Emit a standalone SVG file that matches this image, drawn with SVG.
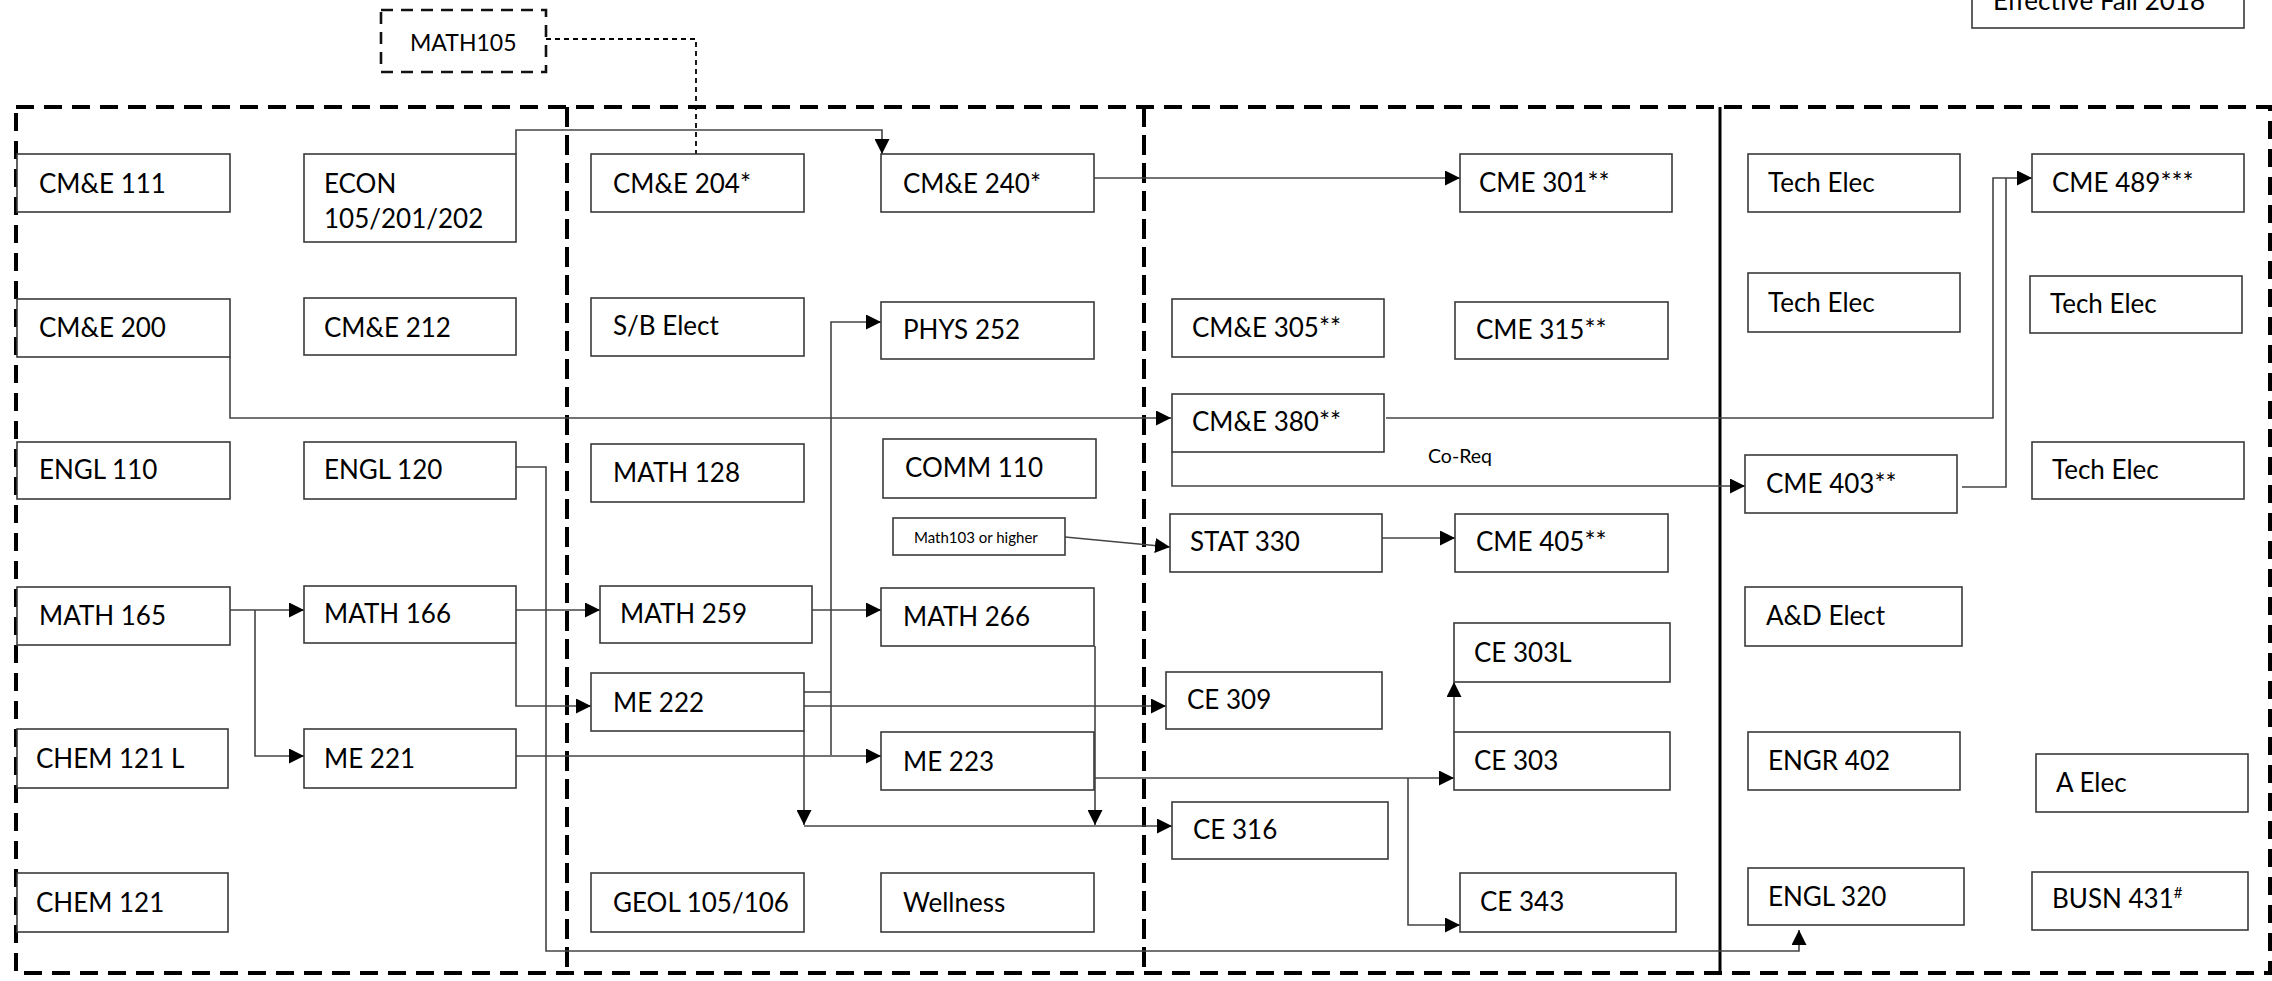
<svg xmlns="http://www.w3.org/2000/svg" width="2272" height="981" viewBox="0 0 2272 981">
<style>
.b{fill:#fff;stroke:#3a3a3a;stroke-width:1.6}
.t{font-family:Lato,"Open Sans","Liberation Sans",sans-serif;font-size:26px;fill:#000}
.s{font-size:15px}
.c{fill:none;stroke:#444;stroke-width:1.6}
.a{marker-end:url(#ah)}
.frame{fill:none;stroke:#000;stroke-width:4;stroke-dasharray:18 10}
</style>
<defs>
<marker id="ah" markerUnits="userSpaceOnUse" markerWidth="16" markerHeight="15" refX="15" refY="7.5" orient="auto">
<path d="M0,0 L15,7.5 L0,15 Z" fill="#000"/>
</marker>
</defs>
<rect width="2272" height="981" fill="#fff"/>
<g id="frame">
<rect class="frame" x="16" y="107" width="2254" height="866"/>
<line class="frame" x1="567" y1="107" x2="567" y2="973" style="stroke-dasharray:20 8"/>
<line class="frame" x1="1144" y1="107" x2="1144" y2="973" style="stroke-dasharray:20 8"/>
<line x1="1720" y1="107" x2="1720" y2="973" stroke="#000" stroke-width="3"/>
</g>
<g id="connectors">
<path d="M546,39 H696 V154" fill="none" stroke="#000" stroke-width="1.8" stroke-dasharray="5 4"/>
<path class="c a" d="M516,154 V130 H882 V154"/>
<path class="c a" d="M1094,178 H1460"/>
<path class="c a" d="M230,357 V418 H1171"/>
<path class="c a" d="M1386,418 H1993 V178 H2032"/>
<path class="c" d="M1962,487 H2006 V178"/>
<path class="c a" d="M1172,452 V486 H1745"/>
<path class="c a" d="M1065,537 L1170,547"/>
<path class="c a" d="M1382,538 H1455"/>
<path class="c a" d="M516,467 H546 V951 H1799 V930"/>
<path class="c a" d="M230,610 H304"/>
<path class="c a" d="M255,610 V756 H304"/>
<path class="c a" d="M516,610 H600"/>
<path class="c a" d="M516,643 V706 H591"/>
<path class="c a" d="M516,756 H881"/>
<path class="c a" d="M831,755 V322 H881"/>
<path class="c" d="M804,692 H831"/>
<path class="c a" d="M812,610 H881"/>
<path class="c a" d="M804,706 H1166"/>
<path class="c a" d="M804,731 V825"/>
<path class="c a" d="M804,826 H1172"/>
<path class="c a" d="M1095,646 V825"/>
<path class="c a" d="M1095,778 H1454"/>
<path class="c a" d="M1454,732 V682"/>
<path class="c a" d="M1408,778 V925 H1460"/>
</g>
<g id="n-math105"><rect x="381" y="10" width="165" height="62" fill="#fff" stroke="#111" stroke-width="2.6" stroke-dasharray="12 8"/><text class="t" x="410" y="51" style="font-size:23px">MATH105</text></g>
<g id="n-effective"><rect class="b" x="1972" y="-30" width="272" height="58"/><text class="t" x="1993" y="10">Effective Fall 2018</text></g>
<g id="n-cme111"><rect class="b" x="17" y="154" width="213" height="58"/><text class="t" x="39" y="193">CM&amp;E 111</text></g>
<g id="n-econ"><rect class="b" x="304" y="154" width="212" height="88"/><text class="t" x="324" y="193">ECON</text><text class="t" x="324" y="228">105/201/202</text></g>
<g id="n-cme204"><rect class="b" x="591" y="154" width="213" height="58"/><text class="t" x="613" y="193">CM&amp;E 204*</text></g>
<g id="n-cme240"><rect class="b" x="881" y="154" width="213" height="58"/><text class="t" x="903" y="193">CM&amp;E 240*</text></g>
<g id="n-cme301"><rect class="b" x="1460" y="154" width="212" height="58"/><text class="t" x="1479" y="192">CME 301**</text></g>
<g id="n-tech1"><rect class="b" x="1748" y="154" width="212" height="58"/><text class="t" x="1768" y="192">Tech Elec</text></g>
<g id="n-cme489"><rect class="b" x="2032" y="154" width="212" height="58"/><text class="t" x="2052" y="192">CME 489***</text></g>
<g id="n-cme200"><rect class="b" x="17" y="299" width="213" height="58"/><text class="t" x="39" y="337">CM&amp;E 200</text></g>
<g id="n-cme212"><rect class="b" x="304" y="298" width="212" height="57"/><text class="t" x="324" y="337">CM&amp;E 212</text></g>
<g id="n-sbelect"><rect class="b" x="591" y="298" width="213" height="58"/><text class="t" x="613" y="335">S/B Elect</text></g>
<g id="n-phys252"><rect class="b" x="881" y="302" width="213" height="57"/><text class="t" x="903" y="339">PHYS 252</text></g>
<g id="n-cme305"><rect class="b" x="1172" y="299" width="212" height="58"/><text class="t" x="1192" y="337">CM&amp;E 305**</text></g>
<g id="n-cme315"><rect class="b" x="1455" y="302" width="213" height="57"/><text class="t" x="1476" y="339">CME 315**</text></g>
<g id="n-tech2"><rect class="b" x="1748" y="273" width="212" height="59"/><text class="t" x="1768" y="312">Tech Elec</text></g>
<g id="n-tech3"><rect class="b" x="2030" y="276" width="212" height="57"/><text class="t" x="2050" y="313">Tech Elec</text></g>
<g id="n-cme380"><rect class="b" x="1172" y="394" width="212" height="58"/><text class="t" x="1192" y="431">CM&amp;E 380**</text></g>
<g id="l-coreq"><text class="t" x="1428" y="463" style="font-size:19.5px">Co-Req</text></g>
<g id="n-engl110"><rect class="b" x="17" y="442" width="213" height="57"/><text class="t" x="39" y="479">ENGL 110</text></g>
<g id="n-engl120"><rect class="b" x="304" y="442" width="212" height="57"/><text class="t" x="324" y="479">ENGL 120</text></g>
<g id="n-math128"><rect class="b" x="591" y="444" width="213" height="58"/><text class="t" x="613" y="482">MATH 128</text></g>
<g id="n-comm110"><rect class="b" x="883" y="439" width="213" height="59"/><text class="t" x="905" y="477">COMM 110</text></g>
<g id="n-cme403"><rect class="b" x="1745" y="455" width="212" height="58"/><text class="t" x="1766" y="493">CME 403**</text></g>
<g id="n-tech4"><rect class="b" x="2032" y="442" width="212" height="57"/><text class="t" x="2052" y="479">Tech Elec</text></g>
<g id="n-math103"><rect class="b" x="893" y="518" width="172" height="37"/><text class="t s" x="914" y="543">Math103 or higher</text></g>
<g id="n-stat330"><rect class="b" x="1170" y="514" width="212" height="58"/><text class="t" x="1190" y="551">STAT 330</text></g>
<g id="n-cme405"><rect class="b" x="1455" y="514" width="213" height="58"/><text class="t" x="1476" y="551">CME 405**</text></g>
<g id="n-math165"><rect class="b" x="17" y="587" width="213" height="58"/><text class="t" x="39" y="625">MATH 165</text></g>
<g id="n-math166"><rect class="b" x="304" y="586" width="212" height="57"/><text class="t" x="324" y="623">MATH 166</text></g>
<g id="n-math259"><rect class="b" x="600" y="586" width="212" height="57"/><text class="t" x="620" y="623">MATH 259</text></g>
<g id="n-math266"><rect class="b" x="881" y="588" width="213" height="58"/><text class="t" x="903" y="626">MATH 266</text></g>
<g id="n-adelect"><rect class="b" x="1745" y="587" width="217" height="59"/><text class="t" x="1766" y="625">A&amp;D Elect</text></g>
<g id="n-ce303l"><rect class="b" x="1454" y="623" width="216" height="59"/><text class="t" x="1474" y="662">CE 303L</text></g>
<g id="n-me222"><rect class="b" x="591" y="673" width="213" height="58"/><text class="t" x="613" y="712">ME 222</text></g>
<g id="n-ce309"><rect class="b" x="1166" y="672" width="216" height="57"/><text class="t" x="1187" y="709">CE 309</text></g>
<g id="n-me221"><rect class="b" x="304" y="729" width="212" height="59"/><text class="t" x="324" y="768">ME 221</text></g>
<g id="n-chem121l"><rect class="b" x="17" y="729" width="211" height="59"/><text class="t" x="36" y="768">CHEM 121 L</text></g>
<g id="n-me223"><rect class="b" x="881" y="732" width="213" height="58"/><text class="t" x="903" y="771">ME 223</text></g>
<g id="n-ce303"><rect class="b" x="1454" y="732" width="216" height="58"/><text class="t" x="1474" y="770">CE 303</text></g>
<g id="n-engr402"><rect class="b" x="1748" y="732" width="212" height="58"/><text class="t" x="1768" y="770">ENGR 402</text></g>
<g id="n-aelec"><rect class="b" x="2036" y="754" width="212" height="58"/><text class="t" x="2056" y="792">A Elec</text></g>
<g id="n-ce316"><rect class="b" x="1172" y="802" width="216" height="57"/><text class="t" x="1193" y="839">CE 316</text></g>
<g id="n-chem121"><rect class="b" x="17" y="873" width="211" height="59"/><text class="t" x="36" y="912">CHEM 121</text></g>
<g id="n-geol"><rect class="b" x="591" y="873" width="213" height="59"/><text class="t" x="613" y="912">GEOL 105/106</text></g>
<g id="n-wellness"><rect class="b" x="881" y="873" width="213" height="59"/><text class="t" x="903" y="912">Wellness</text></g>
<g id="n-ce343"><rect class="b" x="1460" y="873" width="216" height="59"/><text class="t" x="1480" y="911">CE 343</text></g>
<g id="n-engl320"><rect class="b" x="1748" y="868" width="216" height="57"/><text class="t" x="1768" y="906">ENGL 320</text></g>
<g id="n-busn431"><rect class="b" x="2032" y="872" width="216" height="58"/><text class="t" x="2052" y="908">BUSN 431<tspan dy="-10" style="font-size:15px">#</tspan></text></g>
</svg>
